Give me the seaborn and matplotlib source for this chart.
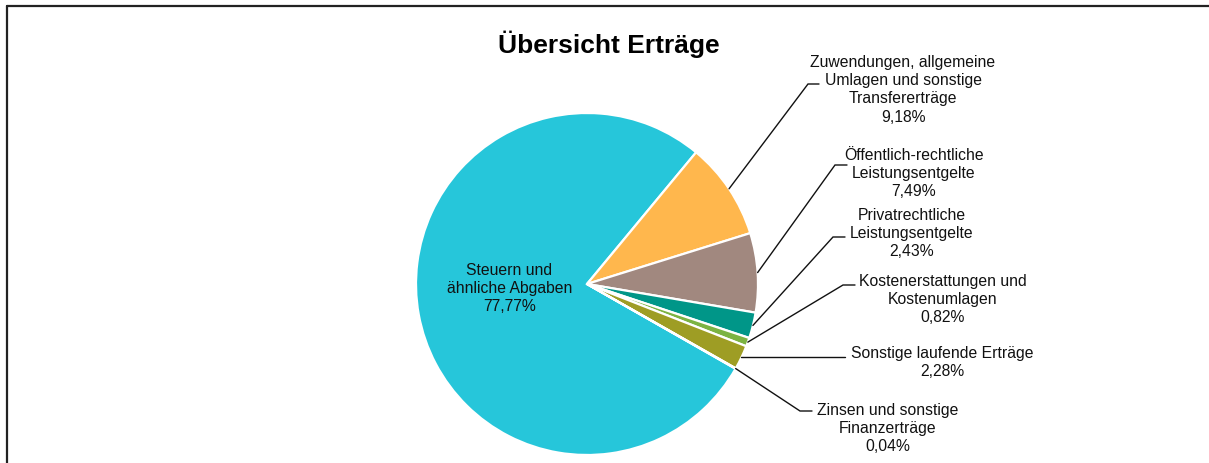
import numpy as np
import seaborn as sns
import matplotlib.pyplot as plt
from matplotlib.lines import Line2D

sns.set_theme(style="white")
plt.rcParams["font.family"] = ["Liberation Sans", "DejaVu Sans"]

# data
categories = [
    "Steuern und\nähnliche Abgaben",
    "Zuwendungen, allgemeine\nUmlagen und sonstige\nTransfererträge",
    "Öffentlich-rechtliche\nLeistungsentgelte",
    "Privatrechtliche\nLeistungsentgelte",
    "Kostenerstattungen und\nKostenumlagen",
    "Sonstige laufende Erträge",
    "Zinsen und sonstige\nFinanzerträge",
]
shares = [77.77, 9.18, 7.49, 2.43, 0.82, 2.28, 0.04]
colors = ["#26C6DA", "#FFB74D", "#A1887F", "#009688", "#7CB342", "#9E9D24", "#827717"]

W, H = 1209, 464
CX, CY, R = 587, 285, 171

# label layout in pixel space (text centre, leader elbow, leader end);
# a None y means "keep the leader level with its start point"
label_pos = [
    (509.5, 288.5),
    (903, 90),
    (914, 173.5),
    (912, 233.5),
    (943, 299.5),
    (942, 362.5),
    (888, 428.5),
]
leader_elbow = [None, (808, 85), (835, 166), (833, 238), (843, 286), (790, None), (800, 412)]
leader_end = [None, (819, 85), (847, 166), (845, 238), (855, 286), (845, None), (812, 412)]

fig = plt.figure(figsize=(W / 100, H / 100), dpi=100)
ax = fig.add_axes([0, 0, 1, 1])

wedges, _ = ax.pie(
    shares,
    colors=colors,
    startangle=-29.7,
    counterclock=False,
    center=(CX, H - CY),
    radius=R,
    wedgeprops=dict(edgecolor="white", linewidth=1.6),
)
ax.set_xlim(0, W)
ax.set_ylim(0, H)
ax.set_axis_off()

for i, (w, lab, val) in enumerate(zip(wedges, categories, shares)):
    txt = f"{lab}\n{val:.2f}%".replace(".", ",")
    x, y = label_pos[i]
    ax.text(x, H - y, txt, ha="center", va="center", fontsize=11.3,
            linespacing=1.25, color="#111111")
    if leader_elbow[i] is None:
        continue
    mid = np.deg2rad((w.theta1 + w.theta2) / 2)
    sx, sy = CX + R * np.cos(mid), (H - CY) + R * np.sin(mid)
    ex, ey = leader_elbow[i]
    fx, fy = leader_end[i]
    ey = sy if ey is None else H - ey
    fy = sy if fy is None else H - fy
    ax.plot([sx, ex, fx], [sy, ey, fy], color="#111111", lw=1.0,
            solid_joinstyle="miter")

ax.text(608.5, H - 44, "Übersicht Erträge", ha="center", va="center",
        fontsize=19, fontweight="bold", color="black")

# chart frame (cropped: only top and left edges visible)
fig.add_artist(Line2D([7 / W, 7 / W], [0, 1 - 7 / H], transform=fig.transFigure,
                      color="#222222", lw=1.6))
fig.add_artist(Line2D([7 / W, 1], [1 - 7 / H, 1 - 7 / H], transform=fig.transFigure,
                      color="#222222", lw=1.6))

fig.savefig("out.png", dpi=100)
